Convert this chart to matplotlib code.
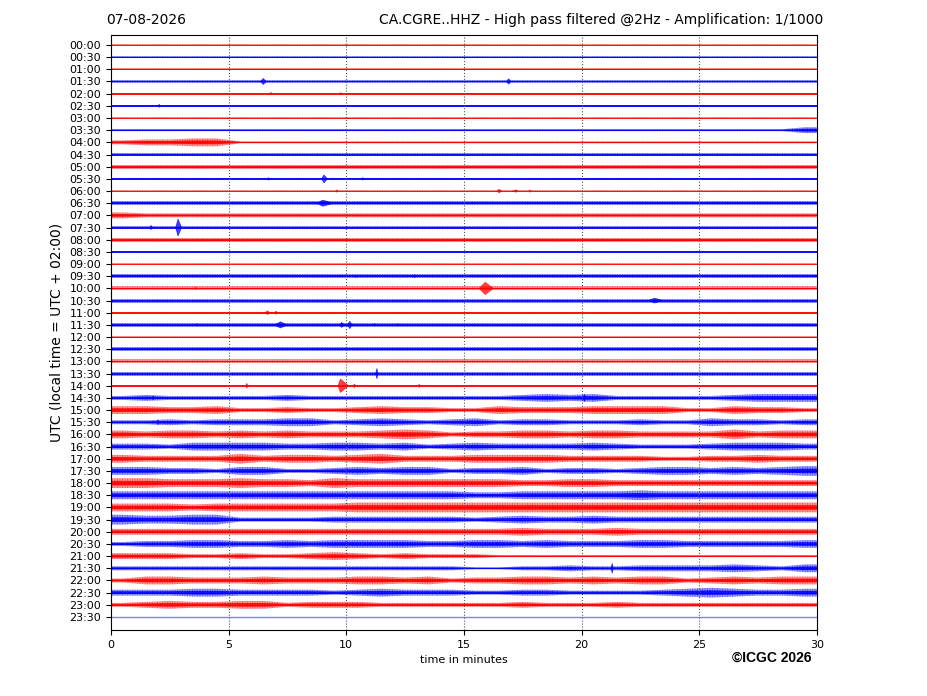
import numpy as np
import matplotlib
matplotlib.use('Agg')
import matplotlib.pyplot as plt
from matplotlib.colors import to_rgba

# ---------------------------------------------------------------
# helicorder day, one trace every 30 minutes
dateLabel = '07-08-2026'
stationTitle = 'CA.CGRE..HHZ - High pass filtered @2Hz - Amplification: 1/1000'
rowLabels = ['%02d:%02d' % (h, m) for h in range(24) for m in (0, 30)]

# noise level per minute (0..9), one string per row
noiseLevels = [
    '111111111111111111111111111111',  # 00:00
    '111111111111111111111111111111',  # 00:30
    '111111111111111111111111111111',  # 01:00
    '222222222222222222222222222222',  # 01:30
    '111111111111111111111111111111',  # 02:00
    '111111111111111111111111111111',  # 02:30
    '111111111111111111111111111111',  # 03:00
    '111111111111111111111111111113',  # 03:30
    '233441111111111111111111111111',  # 04:00
    '222222222222222222222222222222',  # 04:30
    '222222222222222222222222222222',  # 05:00
    '111111111111111111111111111111',  # 05:30
    '111111111111111111111111111111',  # 06:00
    '222222222222222222222222222222',  # 06:30
    '322222222222222222222222222222',  # 07:00
    '222222222222222222222222222222',  # 07:30
    '222222222222222222222222222222',  # 08:00
    '111111111111111111111111111111',  # 08:30
    '111111111111111111111111111111',  # 09:00
    '222222222222222222222222222222',  # 09:30
    '222222222222222222222222222222',  # 10:00
    '222222222222222222222222222222',  # 10:30
    '111111111111111111111111111111',  # 11:00
    '222222222222222222222222222222',  # 11:30
    '111111111111111111111111111111',  # 12:00
    '222222222222222222222222222222',  # 12:30
    '222222222222222222222222222222',  # 13:00
    '222222222222222222222222222222',  # 13:30
    '111111111111111111111111111111',  # 14:00
    '232222232222222223434222223444',  # 14:30
    '443342232234332243334444224332',  # 15:00
    '223233344234323423322232243323',  # 15:30
    '434434343334542334434433335344',  # 16:00
    '332444433443423433334322234443',  # 16:30
    '433335344345333444433332233433',  # 17:00
    '443324422343442334233234434345',  # 17:30
    '554445443544444443344333333333',  # 18:00
    '444444444444444334444454444444',  # 18:30
    '444344444455555555555555555555',  # 19:00
    '544552222333333234334333333333',  # 19:30
    '333333333333333334333433333333',  # 20:00
    '233443343444433443433344333334',  # 20:30
    '333223223432322211111111111111',  # 21:00
    '222222222222222112232233334324',  # 21:30
    '244333433344342334434344234344',  # 22:00
    '333443333234333223322223454334',  # 22:30
    '234334423332222223222322222222',  # 23:00
    '000000000000000000000000000000',  # 23:30
]

# short events: row, start minute, peak minute, end minute, half height
eventRow = [3, 3, 4, 4, 5, 11, 11, 11, 12, 12, 12, 12, 13, 15, 15, 19, 19, 20, 20, 21,
            22, 22, 23, 23, 23, 23, 23, 23, 27, 28, 28, 28, 28, 29, 29, 31, 43]
eventStart = [6.35, 16.8, 6.75, 9.7, 2.0, 8.95, 6.65, 10.65, 9.55, 16.4, 17.1, 17.75, 8.75, 1.65, 2.75,
              10.35, 12.85, 3.55, 15.65, 22.85, 6.55, 6.95, 6.95, 9.7, 10.05, 3.6, 11.15, 12.15,
              11.25, 9.65, 5.73, 10.3, 13.05, 1.75, 20.05, 1.95, 21.25]
eventPeak = [6.47, 16.9, 6.8, 9.76, 2.05, 9.05, 6.7, 10.7, 9.6, 16.5, 17.2, 17.8, 9.0, 1.7, 2.85,
             10.4, 12.9, 3.6, 15.9, 23.1, 6.65, 7.0, 7.2, 9.8, 10.15, 3.65, 11.2, 12.2,
             11.3, 9.75, 5.77, 10.34, 13.1, 1.8, 20.12, 2.0, 21.3]
eventEnd = [6.6, 17.0, 6.85, 9.82, 2.1, 9.2, 6.75, 10.75, 9.65, 16.6, 17.3, 17.85, 9.45, 1.75, 3.0,
            10.45, 12.95, 3.65, 16.25, 23.45, 6.75, 7.1, 7.5, 9.95, 10.25, 3.7, 11.25, 12.25,
            11.35, 10.1, 5.82, 10.4, 13.15, 1.85, 20.2, 2.05, 21.35]
eventAmp = [0.25, 0.22, 0.1, 0.08, 0.12, 0.32, 0.1, 0.1, 0.1, 0.15, 0.1, 0.1, 0.25, 0.18, 0.7,
            0.1, 0.12, 0.1, 0.5, 0.2, 0.15, 0.12, 0.25, 0.2, 0.3, 0.1, 0.1, 0.1,
            0.42, 0.55, 0.2, 0.15, 0.12, 0.15, 0.3, 0.2, 0.4]

traceColors = ['#ff0000', '#0000ff']
levelUnit = 0.08
fontSize = 8

plt.rcParams['hatch.linewidth'] = 0.8

# ---------------------------------------------------------------
fig = plt.figure(figsize=[9.27, 6.96], dpi=100)
ax = fig.add_axes([0.1197, 0.0948, 0.7616, 0.8549])

xs = np.r_[0, np.arange(30) + 0.5, 30]

for i, levels in enumerate(noiseLevels):
    col = traceColors[i % 2]
    env = np.array([int(c) for c in levels]) * levelUnit
    env = np.r_[env[0], env, env[-1]]
    if env.max() > 0:
        # light outer band with vertical wiggle texture, darker core
        ax.fill_between(xs, i - env, i + env, facecolor=to_rgba(col, 0.22),
                        edgecolor=to_rgba(col, 0.5), hatch='||||||||||', linewidth=0)
        ax.fill_between(xs, i - 0.45*env, i + 0.45*env, facecolor=to_rgba(col, 0.6),
                        edgecolor=to_rgba(col, 0.9), hatch='||||||||||||', linewidth=0)
        ax.hlines(i, 0, 30, color=col, linewidth=0.6)
    else:
        ax.hlines(i, 0, 30, color=col, linewidth=1.0, alpha=0.5)

for r, s, p, e, a in zip(eventRow, eventStart, eventPeak, eventEnd, eventAmp):
    col = traceColors[r % 2]
    ax.fill([s, p, e, p], [r, r - a, r, r + a], color=col, alpha=0.75, linewidth=0.5, edgecolor=col)

# dotted 5 minute marks
for m in [5, 10, 15, 20, 25]:
    ax.axvline(m, color='#555555', linestyle=':', linewidth=0.8)

ax.set_xlim(0, 30)
ax.set_ylim(47 + 1.07, -0.82)
ax.set_xticks([0, 5, 10, 15, 20, 25, 30])
ax.set_yticks(np.arange(len(rowLabels)))
ax.set_yticklabels(rowLabels)
ax.tick_params(labelsize=fontSize)
ax.set_xlabel('time in minutes', fontsize=fontSize)
ax.set_ylabel('UTC (local time = UTC + 02:00)', fontsize=10)

fig.text(106/927, 1 - 20/696, dateLabel, fontsize=10, ha='left', va='center')
fig.text(823/927, 1 - 20/696, stationTitle, fontsize=10, ha='right', va='center')
fig.text(811/927, 1 - 658/696, '\u00a9ICGC 2026', fontsize=10, fontweight='bold',
         family=['Liberation Sans', 'DejaVu Sans'], ha='right', va='center')

fig.savefig('out.png', dpi=100)
